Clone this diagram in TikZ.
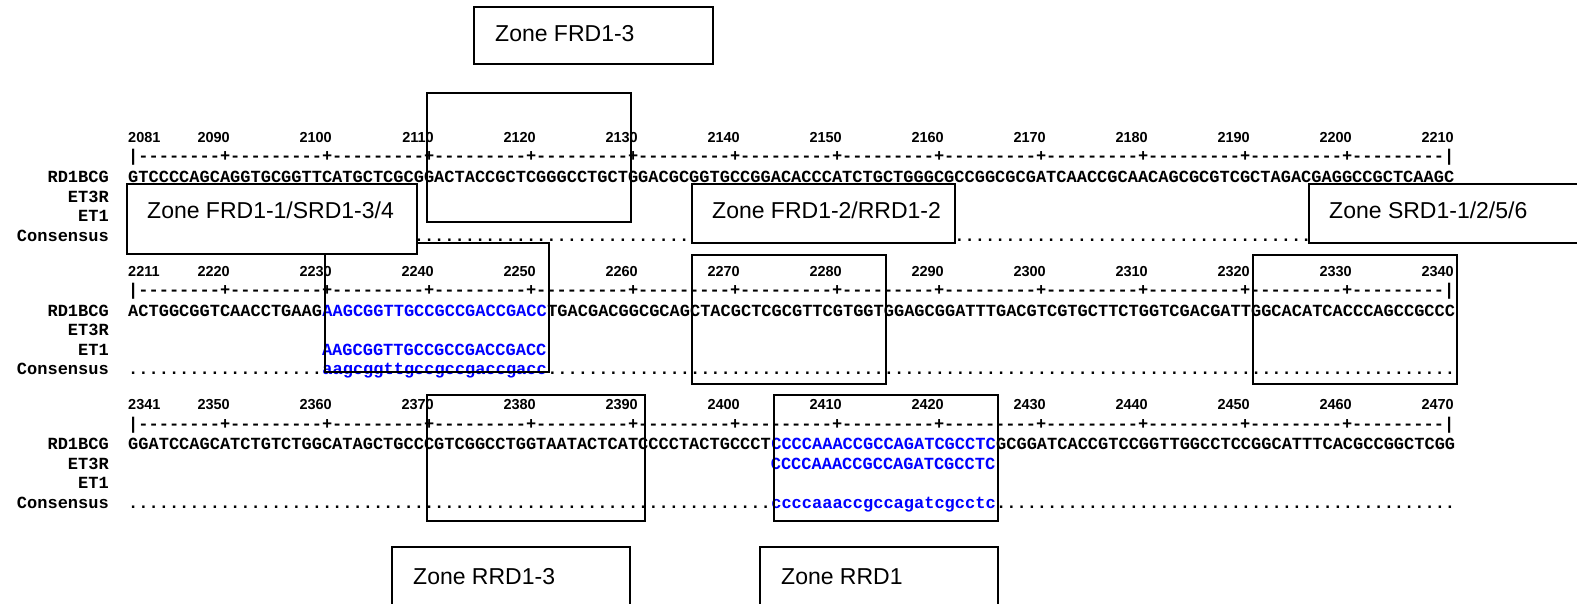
\documentclass[tikz,border=0pt]{standalone}
\usepackage{fontspec}
\setmainfont{Liberation Sans}
\setmonofont{Liberation Mono}

\newcommand{\seqfont}{\ttfamily\bfseries\fontsize{17}{17}\selectfont}
\newcommand{\numfont}{\rmfamily\bfseries\fontsize{14.5}{14.5}\selectfont}
\newcommand{\zonefont}{\rmfamily\fontsize{23}{23}\selectfont}
\newcommand{\dotrun}[1]{\foreach \k in {1,...,#1}{.}}
\newcommand{\rulerrow}{|--------+\foreach \k in {1,...,11}{---------+}---------|}

\tikzset{
  seqtext/.style={font=\seqfont, inner sep=0pt, anchor=base west},
  hitseq/.style={seqtext, text=blue},
  rowlabel/.style={font=\seqfont, inner sep=0pt, anchor=base east},
  numtext/.style={font=\numfont, inner sep=0pt, anchor=base east},
  regionbox/.style={draw=black, line width=1.7pt},
  zonebox/.style={draw=black, fill=white, line width=1.7pt},
  zonetext/.style={font=\zonefont, inner sep=0pt, anchor=base west}
}

\begin{document}
\begin{tikzpicture}[x=1pt, y=-1pt]
  \clip (0,0) rectangle (1577,604);
  % block 1: 2081-2210
  \node[rowlabel] (lab1rd) at (109,182.8) {RD1BCG};
  \node[rowlabel] (lab1et3) at (109,202.3) {ET3R};
  \node[rowlabel] (lab1et1) at (109,221.8) {ET1};
  \node[rowlabel] (lab1cons) at (109,241.3) {Consensus};
  \node[numtext, anchor=base west] (num2081) at (128,142.8) {2081};
  \node[numtext] (num2090) at (230,142.8) {2090};
  \node[numtext] (num2100) at (332,142.8) {2100};
  \node[numtext] (num2110) at (434,142.8) {2110};
  \node[numtext] (num2120) at (536,142.8) {2120};
  \node[numtext] (num2130) at (638,142.8) {2130};
  \node[numtext] (num2140) at (740,142.8) {2140};
  \node[numtext] (num2150) at (842,142.8) {2150};
  \node[numtext] (num2160) at (944,142.8) {2160};
  \node[numtext] (num2170) at (1046,142.8) {2170};
  \node[numtext] (num2180) at (1148,142.8) {2180};
  \node[numtext] (num2190) at (1250,142.8) {2190};
  \node[numtext] (num2200) at (1352,142.8) {2200};
  \node[numtext] (num2210) at (1454,142.8) {2210};
  \node[seqtext] (ruler1) at (128,162) {\rulerrow};
  \node[seqtext] (seq1rd) at (128,182.8) {GTCCCCAGCAGGTGCGGTTCATGCTCGCGGACTACCGCTCGGGCCTGCTGGACGCGGTGCCGGACACCCATCTGCTGGGCGCCGGCGCGATCAACCGCAACAGCGCGTCGCTAGACGAGGCCGCTCAAGC};
  \node[seqtext] (seq1cons) at (128,241.3) {\dotrun{130}};
  % block 2: 2211-2340
  \node[rowlabel] (lab2rd) at (109,316.3) {RD1BCG};
  \node[rowlabel] (lab2et3) at (109,335.8) {ET3R};
  \node[rowlabel] (lab2et1) at (109,355.3) {ET1};
  \node[rowlabel] (lab2cons) at (109,374.8) {Consensus};
  \node[numtext, anchor=base west] (num2211) at (128,276.3) {2211};
  \node[numtext] (num2220) at (230,276.3) {2220};
  \node[numtext] (num2230) at (332,276.3) {2230};
  \node[numtext] (num2240) at (434,276.3) {2240};
  \node[numtext] (num2250) at (536,276.3) {2250};
  \node[numtext] (num2260) at (638,276.3) {2260};
  \node[numtext] (num2270) at (740,276.3) {2270};
  \node[numtext] (num2280) at (842,276.3) {2280};
  \node[numtext] (num2290) at (944,276.3) {2290};
  \node[numtext] (num2300) at (1046,276.3) {2300};
  \node[numtext] (num2310) at (1148,276.3) {2310};
  \node[numtext] (num2320) at (1250,276.3) {2320};
  \node[numtext] (num2330) at (1352,276.3) {2330};
  \node[numtext] (num2340) at (1454,276.3) {2340};
  \node[seqtext] (ruler2) at (128,295.5) {\rulerrow};
  \node[seqtext] (seq2rda) at (128,316.3) {ACTGGCGGTCAACCTGAAG};
  \node[hitseq] (seq2rdb) at (seq2rda.base east) {AAGCGGTTGCCGCCGACCGACC};
  \node[seqtext] (seq2rdc) at (seq2rdb.base east) {TGACGACGGCGCAGCTACGCTCGCGTTCGTGGTGGAGCGGATTTGACGTCGTGCTTCTGGTCGACGATTGGCACATCACCCAGCCGCCC};
  \node[hitseq] (seq2et1) at (321.8,355.3) {AAGCGGTTGCCGCCGACCGACC};
  \node[seqtext] (seq2consa) at (128,374.8) {\dotrun{19}};
  \node[hitseq] (seq2consb) at (seq2consa.base east) {aagcggttgccgccgaccgacc};
  \node[seqtext] (seq2consc) at (seq2consb.base east) {\dotrun{89}};
  % block 3: 2341-2470
  \node[rowlabel] (lab3rd) at (109,449.8) {RD1BCG};
  \node[rowlabel] (lab3et3) at (109,469.3) {ET3R};
  \node[rowlabel] (lab3et1) at (109,488.8) {ET1};
  \node[rowlabel] (lab3cons) at (109,508.3) {Consensus};
  \node[numtext, anchor=base west] (num2341) at (128,409.8) {2341};
  \node[numtext] (num2350) at (230,409.8) {2350};
  \node[numtext] (num2360) at (332,409.8) {2360};
  \node[numtext] (num2370) at (434,409.8) {2370};
  \node[numtext] (num2380) at (536,409.8) {2380};
  \node[numtext] (num2390) at (638,409.8) {2390};
  \node[numtext] (num2400) at (740,409.8) {2400};
  \node[numtext] (num2410) at (842,409.8) {2410};
  \node[numtext] (num2420) at (944,409.8) {2420};
  \node[numtext] (num2430) at (1046,409.8) {2430};
  \node[numtext] (num2440) at (1148,409.8) {2440};
  \node[numtext] (num2450) at (1250,409.8) {2450};
  \node[numtext] (num2460) at (1352,409.8) {2460};
  \node[numtext] (num2470) at (1454,409.8) {2470};
  \node[seqtext] (ruler3) at (128,429) {\rulerrow};
  \node[seqtext] (seq3rda) at (128,449.8) {GGATCCAGCATCTGTCTGGCATAGCTGCCCGTCGGCCTGGTAATACTCATCCCCTACTGCCCT};
  \node[hitseq] (seq3rdb) at (seq3rda.base east) {CCCCAAACCGCCAGATCGCCTC};
  \node[seqtext] (seq3rdc) at (seq3rdb.base east) {GCGGATCACCGTCCGGTTGGCCTCCGGCATTTCACGCCGGCTCGG};
  \node[hitseq] (seq3et3) at (770.6,469.3) {CCCCAAACCGCCAGATCGCCTC};
  \node[seqtext] (seq3consa) at (128,508.3) {\dotrun{63}};
  \node[hitseq] (seq3consb) at (seq3consa.base east) {ccccaaaccgccagatcgcctc};
  \node[seqtext] (seq3consc) at (seq3consb.base east) {\dotrun{45}};
  % draw region boxes
  \draw[regionbox] (427,93) rectangle (631,222);
  \draw[regionbox] (325,243) rectangle (549,372);
  \draw[regionbox] (692,255) rectangle (886,384);
  \draw[regionbox] (1253,255) rectangle (1457,384);
  \draw[regionbox] (427,395) rectangle (645,521);
  \draw[regionbox] (774,395) rectangle (998,521);
  % draw zone labels
  \draw[zonebox] (474,7) rectangle (713,64);
  \node[zonetext] (zoneFRD3) at (495,41.2) {Zone FRD1-3};
  \draw[zonebox] (127,184) rectangle (417,254);
  \node[zonetext] (zoneFRD1) at (147,219) {Zone FRD1-1/SRD1-3/4};
  \draw[zonebox] (692,184) rectangle (955,243);
  \node[zonetext] (zoneFRD2) at (712,219) {Zone FRD1-2/RRD1-2};
  \draw[zonebox] (1309,184) rectangle (1620,243);
  \node[zonetext] (zoneSRD) at (1329,219) {Zone SRD1-1/2/5/6};
  \draw[zonebox] (392,547) rectangle (630,620);
  \node[zonetext] (zoneRRD3) at (413,584) {Zone RRD1-3};
  \draw[zonebox] (760,547) rectangle (998,620);
  \node[zonetext] (zoneRRD) at (781,584) {Zone RRD1};
\end{tikzpicture}
\end{document}
